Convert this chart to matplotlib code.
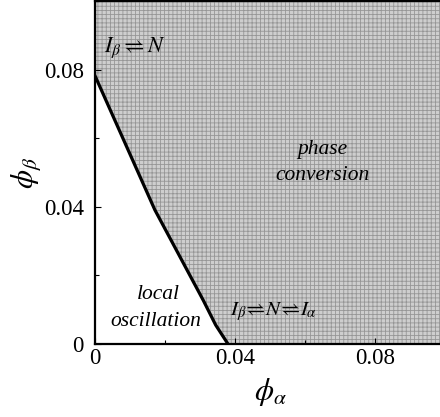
import matplotlib
matplotlib.use("Agg")
import matplotlib.pyplot as plt
from matplotlib.ticker import MultipleLocator, FixedLocator, FixedFormatter

plt.rcParams['mathtext.fontset'] = 'stix'
plt.rcParams['font.family'] = ['Liberation Serif', 'DejaVu Serif']
plt.rcParams['hatch.linewidth'] = 0.6

# boundary between local oscillation and phase conversion
phi_a = [0.0, 0.0171, 0.0309, 0.0345, 0.0380]
phi_b = [0.0782, 0.0391, 0.0128, 0.0055, 0.0]

x_ticks = [0, 0.04, 0.08]
x_labels = ['0', '0.04', '0.08']
y_ticks = [0, 0.04, 0.08]
y_labels = ['0', '0.04', '0.08']
x_max = 0.1
y_max = 0.1

fig = plt.figure(figsize=(4.4, 4.17), dpi=100)
ax = fig.add_axes([95/440, 73/417, 350/440, 343/417])

poly_x = phi_a + [x_max, x_max, 0.0]
poly_y = phi_b + [0.0, y_max, y_max]
ax.fill(poly_x, poly_y, facecolor='#cecece', edgecolor='#969696',
        hatch='++++', linewidth=0, zorder=1)
ax.plot(phi_a, phi_b, color='black', lw=2.3, zorder=3, solid_joinstyle='round')

ax.set_xlim(0, x_max)
ax.set_ylim(0, y_max)

ax.xaxis.set_major_locator(FixedLocator(x_ticks))
ax.xaxis.set_major_formatter(FixedFormatter(x_labels))
ax.yaxis.set_major_locator(FixedLocator(y_ticks))
ax.yaxis.set_major_formatter(FixedFormatter(y_labels))
ax.xaxis.set_minor_locator(MultipleLocator(0.02))
ax.yaxis.set_minor_locator(MultipleLocator(0.02))

ax.tick_params(which='both', direction='in', top=False, right=False,
               labelsize=16.5, width=0.8)
ax.tick_params(which='major', length=4)
ax.tick_params(which='minor', length=3)
ax.tick_params(axis='y', pad=8)
ax.tick_params(axis='x', pad=3)

for s in ax.spines.values():
    s.set_linewidth(1.6)

ax.set_xlabel(r'$\phi_\alpha$', fontsize=22, labelpad=5)
ax.set_ylabel(r'$\phi_\beta$', fontsize=22, labelpad=0)

txt = dict(fontsize=15.5, style='italic', ha='center', va='center', zorder=4)
ax.text(0.0649, 0.0566, 'phase', **txt)
ax.text(0.0649, 0.0490, 'conversion', **txt)
ax.text(0.0180, 0.0143, 'local', **txt)
ax.text(0.0174, 0.0067, 'oscillation', **txt)

ax.text(0.0025, 0.0865, r'$I_\beta \rightleftharpoons N$', fontsize=16,
        ha='left', va='center', zorder=4)
ax.text(0.0385, 0.0095, r'$I_\beta\!\rightleftharpoons\!N\!\rightleftharpoons\!I_\alpha$',
        fontsize=15, ha='left', va='center', zorder=4)

fig.savefig('out.png', dpi=100)
